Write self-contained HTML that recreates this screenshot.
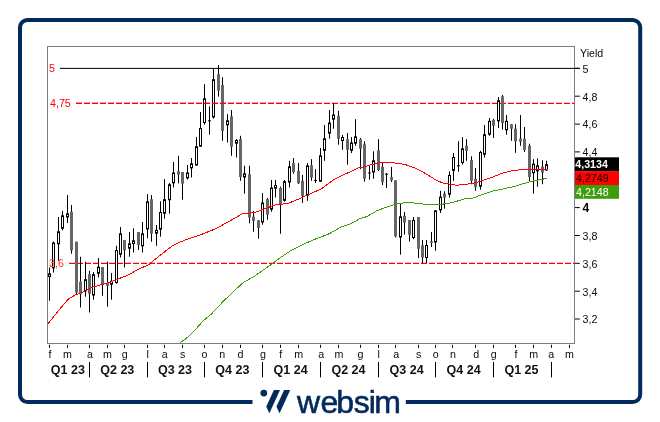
<!DOCTYPE html>
<html lang="it"><head><meta charset="utf-8"><title>Yield chart - websim</title>
<style>html,body{margin:0;padding:0;background:#fff}body{width:660px;height:422px;overflow:hidden;font-family:"Liberation Sans",Arial,sans-serif}svg{display:block}text{font-family:"Liberation Sans",Arial,sans-serif}</style></head><body>
<svg width="660" height="422" viewBox="0 0 660 422">
<rect width="660" height="422" fill="#fff"/>
<rect x="20" y="19.9" width="620.2" height="382.1" rx="7.5" ry="7.5" fill="none" stroke="#022a5c" stroke-width="4"/>
<rect x="252.5" y="397" width="153.3" height="10" fill="#fff"/>
<g fill="#022a5c"><circle cx="263.8" cy="393.1" r="3.4"/>
<polygon points="273.9,390.1 280.0,390.1 269.5,413.1 269.1,413.1 266.3,406.6"/>
<polygon points="284.1,390.1 290.2,390.1 279.7,413.1 279.3,413.1 276.5,406.6"/>
<text x="297 320.4 336.2 353.7 368.8 374.3" y="413.3" font-size="32" stroke="#022a5c" stroke-width="0.6">websim</text></g>
<rect x="47.5" y="46.5" width="527" height="297" fill="#fff" stroke="#7c7c8e" stroke-width="1"/>
<g font-size="10.67" fill="#f00"><text x="49" y="72">5</text><text x="50" y="107">4,75</text></g>
<line x1="76" y1="103.3" x2="574.5" y2="103.3" stroke="#f00" stroke-width="1.2" stroke-dasharray="6 2"/>
<line x1="69" y1="263.3" x2="574.5" y2="263.3" stroke="#f00" stroke-width="1.2" stroke-dasharray="6 2"/>
<g>
<line x1="49.5" y1="267.5" x2="49.5" y2="300.8" stroke="#000" stroke-width="1"/>
<rect x="48.5" y="273.8" width="2" height="2.7" fill="#fff" stroke="#000" stroke-width="1"/>
<line x1="53.5" y1="241.5" x2="53.5" y2="272.5" stroke="#000" stroke-width="1"/>
<rect x="52.5" y="243.0" width="2" height="24.8" fill="#fff" stroke="#000" stroke-width="1"/>
<line x1="58.5" y1="217.0" x2="58.5" y2="260.8" stroke="#000" stroke-width="1"/>
<rect x="57.5" y="231.8" width="2" height="11.9" fill="#fff" stroke="#000" stroke-width="1"/>
<line x1="62.5" y1="210.8" x2="62.5" y2="230.3" stroke="#000" stroke-width="1"/>
<rect x="61.5" y="215.8" width="2" height="12.4" fill="#fff" stroke="#000" stroke-width="1"/>
<line x1="67.5" y1="195.0" x2="67.5" y2="223.0" stroke="#000" stroke-width="1"/>
<rect x="66.5" y="213.8" width="2" height="3.2" fill="#fff" stroke="#000" stroke-width="1"/>
<line x1="71.5" y1="205.0" x2="71.5" y2="253.7" stroke="#000" stroke-width="1"/>
<rect x="70.0" y="211.7" width="3" height="38.6" fill="#666"/>
<line x1="76.5" y1="241.7" x2="76.5" y2="294.0" stroke="#000" stroke-width="1"/>
<rect x="75.0" y="241.7" width="3" height="50.8" fill="#666"/>
<line x1="80.5" y1="256.7" x2="80.5" y2="307.5" stroke="#000" stroke-width="1"/>
<rect x="79.0" y="281.7" width="3" height="12.5" fill="#666"/>
<line x1="85.5" y1="261.7" x2="85.5" y2="296.7" stroke="#000" stroke-width="1"/>
<rect x="84.5" y="279.7" width="2" height="11.2" fill="#fff" stroke="#000" stroke-width="1"/>
<line x1="89.5" y1="270.8" x2="89.5" y2="312.5" stroke="#000" stroke-width="1"/>
<rect x="88.0" y="274.2" width="3" height="19.5" fill="#666"/>
<line x1="93.5" y1="272.0" x2="93.5" y2="299.7" stroke="#000" stroke-width="1"/>
<rect x="92.5" y="274.7" width="2" height="20.3" fill="#fff" stroke="#000" stroke-width="1"/>
<line x1="98.5" y1="258.0" x2="98.5" y2="277.5" stroke="#000" stroke-width="1"/>
<rect x="97.5" y="267.2" width="2" height="6.1" fill="#fff" stroke="#000" stroke-width="1"/>
<line x1="102.5" y1="267.0" x2="102.5" y2="295.8" stroke="#000" stroke-width="1"/>
<rect x="101.0" y="267.0" width="3" height="18.0" fill="#666"/>
<line x1="107.5" y1="261.7" x2="107.5" y2="306.7" stroke="#000" stroke-width="1"/>
<rect x="106.0" y="283.0" width="3" height="2.8" fill="#666"/>
<line x1="111.5" y1="273.0" x2="111.5" y2="299.7" stroke="#000" stroke-width="1"/>
<rect x="110.5" y="281.3" width="2" height="2.9" fill="#fff" stroke="#000" stroke-width="1"/>
<line x1="116.5" y1="245.8" x2="116.5" y2="283.7" stroke="#000" stroke-width="1"/>
<rect x="115.5" y="250.5" width="2" height="32.0" fill="#fff" stroke="#000" stroke-width="1"/>
<line x1="120.5" y1="227.0" x2="120.5" y2="257.5" stroke="#000" stroke-width="1"/>
<rect x="119.5" y="233.8" width="2" height="20.4" fill="#fff" stroke="#000" stroke-width="1"/>
<line x1="124.5" y1="240.0" x2="124.5" y2="267.5" stroke="#000" stroke-width="1"/>
<rect x="123.0" y="240.0" width="3" height="10.3" fill="#666"/>
<line x1="129.5" y1="232.0" x2="129.5" y2="256.7" stroke="#000" stroke-width="1"/>
<rect x="128.5" y="243.8" width="2" height="4.4" fill="#fff" stroke="#000" stroke-width="1"/>
<line x1="133.5" y1="228.3" x2="133.5" y2="252.5" stroke="#000" stroke-width="1"/>
<rect x="132.5" y="240.8" width="2" height="2.7" fill="#fff" stroke="#000" stroke-width="1"/>
<line x1="138.5" y1="232.0" x2="138.5" y2="250.0" stroke="#000" stroke-width="1"/>
<rect x="137.0" y="232.0" width="3" height="13.0" fill="#666"/>
<line x1="142.5" y1="222.0" x2="142.5" y2="252.5" stroke="#000" stroke-width="1"/>
<rect x="141.5" y="233.8" width="2" height="12.0" fill="#fff" stroke="#000" stroke-width="1"/>
<line x1="147.5" y1="194.2" x2="147.5" y2="238.3" stroke="#000" stroke-width="1"/>
<rect x="146.5" y="201.8" width="2" height="27.2" fill="#fff" stroke="#000" stroke-width="1"/>
<line x1="151.5" y1="195.0" x2="151.5" y2="241.7" stroke="#000" stroke-width="1"/>
<rect x="150.0" y="199.2" width="3" height="34.5" fill="#666"/>
<line x1="156.5" y1="225.0" x2="156.5" y2="245.8" stroke="#000" stroke-width="1"/>
<rect x="155.5" y="230.5" width="2" height="2.7" fill="#fff" stroke="#000" stroke-width="1"/>
<line x1="160.5" y1="201.3" x2="160.5" y2="236.7" stroke="#000" stroke-width="1"/>
<rect x="159.5" y="212.5" width="2" height="16.7" fill="#fff" stroke="#000" stroke-width="1"/>
<line x1="164.5" y1="179.2" x2="164.5" y2="218.7" stroke="#000" stroke-width="1"/>
<rect x="163.5" y="199.7" width="2" height="13.5" fill="#fff" stroke="#000" stroke-width="1"/>
<line x1="169.5" y1="183.0" x2="169.5" y2="213.7" stroke="#000" stroke-width="1"/>
<rect x="168.5" y="184.7" width="2" height="15.1" fill="#fff" stroke="#000" stroke-width="1"/>
<line x1="173.5" y1="162.0" x2="173.5" y2="187.5" stroke="#000" stroke-width="1"/>
<rect x="172.5" y="173.0" width="2" height="9.8" fill="#fff" stroke="#000" stroke-width="1"/>
<line x1="178.5" y1="155.8" x2="178.5" y2="183.3" stroke="#000" stroke-width="1"/>
<rect x="177.0" y="171.3" width="3" height="3.4" fill="#666"/>
<line x1="182.5" y1="172.0" x2="182.5" y2="199.7" stroke="#000" stroke-width="1"/>
<rect x="181.0" y="172.0" width="3" height="11.7" fill="#666"/>
<line x1="187.5" y1="165.0" x2="187.5" y2="179.7" stroke="#000" stroke-width="1"/>
<rect x="186.5" y="173.0" width="2" height="4.8" fill="#fff" stroke="#000" stroke-width="1"/>
<line x1="191.5" y1="158.0" x2="191.5" y2="177.5" stroke="#000" stroke-width="1"/>
<rect x="190.5" y="163.8" width="2" height="4.0" fill="#fff" stroke="#000" stroke-width="1"/>
<line x1="196.5" y1="137.0" x2="196.5" y2="165.5" stroke="#000" stroke-width="1"/>
<rect x="195.5" y="146.8" width="2" height="18.2" fill="#fff" stroke="#000" stroke-width="1"/>
<line x1="200.5" y1="112.0" x2="200.5" y2="146.7" stroke="#000" stroke-width="1"/>
<rect x="199.5" y="128.5" width="2" height="17.7" fill="#fff" stroke="#000" stroke-width="1"/>
<line x1="204.5" y1="84.2" x2="204.5" y2="124.7" stroke="#000" stroke-width="1"/>
<rect x="203.5" y="98.8" width="2" height="23.7" fill="#fff" stroke="#000" stroke-width="1"/>
<line x1="209.5" y1="106.3" x2="209.5" y2="134.7" stroke="#000" stroke-width="1"/>
<line x1="208.0" y1="120.8" x2="211.0" y2="120.8" stroke="#000" stroke-width="1"/>
<line x1="213.5" y1="68.3" x2="213.5" y2="118.7" stroke="#000" stroke-width="1"/>
<rect x="212.5" y="79.7" width="2" height="37.3" fill="#fff" stroke="#000" stroke-width="1"/>
<line x1="218.5" y1="65.0" x2="218.5" y2="96.7" stroke="#000" stroke-width="1"/>
<rect x="217.0" y="74.2" width="3" height="16.6" fill="#666"/>
<line x1="222.5" y1="77.2" x2="222.5" y2="140.8" stroke="#000" stroke-width="1"/>
<rect x="221.0" y="85.0" width="3" height="46.0" fill="#666"/>
<line x1="227.5" y1="114.2" x2="227.5" y2="142.5" stroke="#000" stroke-width="1"/>
<rect x="226.5" y="120.8" width="2" height="4.0" fill="#fff" stroke="#000" stroke-width="1"/>
<line x1="231.5" y1="110.0" x2="231.5" y2="155.8" stroke="#000" stroke-width="1"/>
<rect x="230.0" y="116.3" width="3" height="30.4" fill="#666"/>
<line x1="236.5" y1="139.0" x2="236.5" y2="157.5" stroke="#000" stroke-width="1"/>
<rect x="235.5" y="140.5" width="2" height="2.7" fill="#fff" stroke="#000" stroke-width="1"/>
<line x1="240.5" y1="135.8" x2="240.5" y2="180.8" stroke="#000" stroke-width="1"/>
<rect x="239.0" y="139.2" width="3" height="37.8" fill="#666"/>
<line x1="244.5" y1="165.8" x2="244.5" y2="193.7" stroke="#000" stroke-width="1"/>
<rect x="243.5" y="173.8" width="2" height="3.2" fill="#fff" stroke="#000" stroke-width="1"/>
<line x1="249.5" y1="165.8" x2="249.5" y2="223.3" stroke="#000" stroke-width="1"/>
<rect x="248.0" y="174.2" width="3" height="43.3" fill="#666"/>
<line x1="253.5" y1="210.8" x2="253.5" y2="231.7" stroke="#000" stroke-width="1"/>
<rect x="252.0" y="216.7" width="3" height="4.1" fill="#666"/>
<line x1="258.5" y1="220.3" x2="258.5" y2="238.7" stroke="#000" stroke-width="1"/>
<rect x="257.0" y="220.3" width="3" height="7.7" fill="#666"/>
<line x1="262.5" y1="193.0" x2="262.5" y2="224.7" stroke="#000" stroke-width="1"/>
<rect x="261.5" y="203.0" width="2" height="19.0" fill="#fff" stroke="#000" stroke-width="1"/>
<line x1="267.5" y1="198.0" x2="267.5" y2="219.7" stroke="#000" stroke-width="1"/>
<rect x="266.0" y="199.2" width="3" height="15.5" fill="#666"/>
<line x1="271.5" y1="180.0" x2="271.5" y2="211.7" stroke="#000" stroke-width="1"/>
<rect x="270.5" y="188.0" width="2" height="21.2" fill="#fff" stroke="#000" stroke-width="1"/>
<line x1="275.5" y1="180.0" x2="275.5" y2="197.5" stroke="#000" stroke-width="1"/>
<rect x="274.5" y="185.5" width="2" height="2.7" fill="#fff" stroke="#000" stroke-width="1"/>
<line x1="280.5" y1="186.7" x2="280.5" y2="233.8" stroke="#000" stroke-width="1"/>
<rect x="279.0" y="188.0" width="3" height="16.0" fill="#666"/>
<line x1="284.5" y1="180.0" x2="284.5" y2="201.7" stroke="#000" stroke-width="1"/>
<rect x="283.5" y="181.7" width="2" height="18.6" fill="#fff" stroke="#000" stroke-width="1"/>
<line x1="289.5" y1="160.8" x2="289.5" y2="187.5" stroke="#000" stroke-width="1"/>
<rect x="288.5" y="166.8" width="2" height="15.2" fill="#fff" stroke="#000" stroke-width="1"/>
<line x1="293.5" y1="158.0" x2="293.5" y2="173.7" stroke="#000" stroke-width="1"/>
<rect x="292.0" y="163.0" width="3" height="9.0" fill="#666"/>
<line x1="298.5" y1="163.0" x2="298.5" y2="184.0" stroke="#000" stroke-width="1"/>
<rect x="297.0" y="170.8" width="3" height="12.5" fill="#666"/>
<line x1="302.5" y1="175.0" x2="302.5" y2="203.0" stroke="#000" stroke-width="1"/>
<rect x="301.0" y="180.8" width="3" height="15.0" fill="#666"/>
<line x1="307.5" y1="163.0" x2="307.5" y2="200.8" stroke="#000" stroke-width="1"/>
<rect x="306.5" y="165.8" width="2" height="29.5" fill="#fff" stroke="#000" stroke-width="1"/>
<line x1="311.5" y1="159.2" x2="311.5" y2="180.8" stroke="#000" stroke-width="1"/>
<rect x="310.0" y="165.3" width="3" height="12.2" fill="#666"/>
<line x1="315.5" y1="169.2" x2="315.5" y2="183.0" stroke="#000" stroke-width="1"/>
<line x1="314.0" y1="180.5" x2="317.0" y2="180.5" stroke="#000" stroke-width="1"/>
<line x1="320.5" y1="148.0" x2="320.5" y2="181.7" stroke="#000" stroke-width="1"/>
<rect x="319.5" y="155.8" width="2" height="25.4" fill="#fff" stroke="#000" stroke-width="1"/>
<line x1="324.5" y1="125.0" x2="324.5" y2="160.8" stroke="#000" stroke-width="1"/>
<rect x="323.5" y="138.8" width="2" height="11.5" fill="#fff" stroke="#000" stroke-width="1"/>
<line x1="329.5" y1="110.0" x2="329.5" y2="138.7" stroke="#000" stroke-width="1"/>
<rect x="328.5" y="123.0" width="2" height="10.2" fill="#fff" stroke="#000" stroke-width="1"/>
<line x1="333.5" y1="103.3" x2="333.5" y2="128.7" stroke="#000" stroke-width="1"/>
<rect x="332.5" y="115.0" width="2" height="4.2" fill="#fff" stroke="#000" stroke-width="1"/>
<line x1="338.5" y1="110.8" x2="338.5" y2="144.7" stroke="#000" stroke-width="1"/>
<rect x="337.0" y="115.8" width="3" height="22.9" fill="#666"/>
<line x1="342.5" y1="135.0" x2="342.5" y2="149.7" stroke="#000" stroke-width="1"/>
<rect x="341.5" y="137.5" width="2" height="3.0" fill="#fff" stroke="#000" stroke-width="1"/>
<line x1="347.5" y1="133.0" x2="347.5" y2="164.7" stroke="#000" stroke-width="1"/>
<rect x="346.0" y="139.2" width="3" height="10.5" fill="#666"/>
<line x1="351.5" y1="137.0" x2="351.5" y2="153.0" stroke="#000" stroke-width="1"/>
<rect x="350.5" y="143.0" width="2" height="7.3" fill="#fff" stroke="#000" stroke-width="1"/>
<line x1="355.5" y1="119.2" x2="355.5" y2="145.8" stroke="#000" stroke-width="1"/>
<rect x="354.5" y="136.8" width="2" height="6.4" fill="#fff" stroke="#000" stroke-width="1"/>
<line x1="360.5" y1="138.0" x2="360.5" y2="169.2" stroke="#000" stroke-width="1"/>
<rect x="359.0" y="139.2" width="3" height="9.5" fill="#666"/>
<line x1="364.5" y1="141.3" x2="364.5" y2="181.7" stroke="#000" stroke-width="1"/>
<rect x="363.0" y="144.2" width="3" height="34.5" fill="#666"/>
<line x1="369.5" y1="165.8" x2="369.5" y2="179.7" stroke="#000" stroke-width="1"/>
<line x1="368.0" y1="173.0" x2="371.0" y2="173.0" stroke="#000" stroke-width="1"/>
<line x1="373.5" y1="151.3" x2="373.5" y2="178.7" stroke="#000" stroke-width="1"/>
<rect x="372.5" y="160.8" width="2" height="11.2" fill="#fff" stroke="#000" stroke-width="1"/>
<line x1="378.5" y1="139.2" x2="378.5" y2="171.0" stroke="#000" stroke-width="1"/>
<rect x="377.0" y="150.3" width="3" height="19.7" fill="#666"/>
<line x1="382.5" y1="162.5" x2="382.5" y2="185.0" stroke="#000" stroke-width="1"/>
<rect x="381.0" y="166.7" width="3" height="15.3" fill="#666"/>
<line x1="386.5" y1="173.0" x2="386.5" y2="188.0" stroke="#000" stroke-width="1"/>
<line x1="385.0" y1="174.2" x2="388.0" y2="174.2" stroke="#000" stroke-width="1"/>
<line x1="391.5" y1="167.0" x2="391.5" y2="182.0" stroke="#000" stroke-width="1"/>
<rect x="390.0" y="177.0" width="3" height="3.3" fill="#666"/>
<line x1="395.5" y1="180.3" x2="395.5" y2="237.5" stroke="#000" stroke-width="1"/>
<rect x="394.0" y="180.3" width="3" height="56.0" fill="#666"/>
<line x1="400.5" y1="203.3" x2="400.5" y2="254.7" stroke="#000" stroke-width="1"/>
<rect x="399.5" y="216.8" width="2" height="20.2" fill="#fff" stroke="#000" stroke-width="1"/>
<line x1="404.5" y1="212.0" x2="404.5" y2="234.7" stroke="#000" stroke-width="1"/>
<rect x="403.0" y="215.8" width="3" height="6.7" fill="#666"/>
<line x1="409.5" y1="220.0" x2="409.5" y2="241.7" stroke="#000" stroke-width="1"/>
<rect x="408.0" y="220.0" width="3" height="14.7" fill="#666"/>
<line x1="413.5" y1="217.0" x2="413.5" y2="239.2" stroke="#000" stroke-width="1"/>
<rect x="412.5" y="220.5" width="2" height="17.0" fill="#fff" stroke="#000" stroke-width="1"/>
<line x1="418.5" y1="217.0" x2="418.5" y2="258.0" stroke="#000" stroke-width="1"/>
<rect x="417.0" y="217.0" width="3" height="31.7" fill="#666"/>
<line x1="422.5" y1="240.0" x2="422.5" y2="263.3" stroke="#000" stroke-width="1"/>
<rect x="421.0" y="245.3" width="3" height="12.2" fill="#666"/>
<line x1="426.5" y1="240.0" x2="426.5" y2="263.0" stroke="#000" stroke-width="1"/>
<rect x="425.5" y="245.5" width="2" height="12.0" fill="#fff" stroke="#000" stroke-width="1"/>
<line x1="431.5" y1="232.0" x2="431.5" y2="247.0" stroke="#000" stroke-width="1"/>
<rect x="430.0" y="241.3" width="3" height="1.7" fill="#666"/>
<line x1="435.5" y1="210.3" x2="435.5" y2="250.8" stroke="#000" stroke-width="1"/>
<rect x="434.5" y="210.8" width="2" height="31.2" fill="#fff" stroke="#000" stroke-width="1"/>
<line x1="440.5" y1="190.8" x2="440.5" y2="213.0" stroke="#000" stroke-width="1"/>
<rect x="439.5" y="197.2" width="2" height="12.6" fill="#fff" stroke="#000" stroke-width="1"/>
<line x1="444.5" y1="191.3" x2="444.5" y2="208.7" stroke="#000" stroke-width="1"/>
<rect x="443.0" y="193.7" width="3" height="3.8" fill="#666"/>
<line x1="449.5" y1="171.3" x2="449.5" y2="197.5" stroke="#000" stroke-width="1"/>
<rect x="448.5" y="175.5" width="2" height="18.7" fill="#fff" stroke="#000" stroke-width="1"/>
<line x1="453.5" y1="153.0" x2="453.5" y2="180.8" stroke="#000" stroke-width="1"/>
<rect x="452.5" y="157.5" width="2" height="12.8" fill="#fff" stroke="#000" stroke-width="1"/>
<line x1="458.5" y1="141.3" x2="458.5" y2="171.7" stroke="#000" stroke-width="1"/>
<line x1="457.0" y1="165.8" x2="460.0" y2="165.8" stroke="#000" stroke-width="1"/>
<line x1="462.5" y1="137.0" x2="462.5" y2="164.7" stroke="#000" stroke-width="1"/>
<rect x="461.5" y="148.8" width="2" height="13.7" fill="#fff" stroke="#000" stroke-width="1"/>
<line x1="466.5" y1="139.2" x2="466.5" y2="160.8" stroke="#000" stroke-width="1"/>
<rect x="465.0" y="145.8" width="3" height="5.0" fill="#666"/>
<line x1="471.5" y1="156.3" x2="471.5" y2="184.2" stroke="#000" stroke-width="1"/>
<rect x="470.0" y="160.0" width="3" height="20.8" fill="#666"/>
<line x1="475.5" y1="168.0" x2="475.5" y2="190.8" stroke="#000" stroke-width="1"/>
<rect x="474.0" y="178.7" width="3" height="8.3" fill="#666"/>
<line x1="480.5" y1="150.8" x2="480.5" y2="189.7" stroke="#000" stroke-width="1"/>
<rect x="479.5" y="152.5" width="2" height="33.7" fill="#fff" stroke="#000" stroke-width="1"/>
<line x1="484.5" y1="125.0" x2="484.5" y2="157.5" stroke="#000" stroke-width="1"/>
<rect x="483.5" y="134.7" width="2" height="19.5" fill="#fff" stroke="#000" stroke-width="1"/>
<line x1="489.5" y1="118.0" x2="489.5" y2="135.8" stroke="#000" stroke-width="1"/>
<rect x="488.5" y="121.3" width="2" height="12.9" fill="#fff" stroke="#000" stroke-width="1"/>
<line x1="493.5" y1="118.8" x2="493.5" y2="138.0" stroke="#000" stroke-width="1"/>
<rect x="492.0" y="120.0" width="3" height="5.8" fill="#666"/>
<line x1="498.5" y1="97.0" x2="498.5" y2="128.0" stroke="#000" stroke-width="1"/>
<rect x="497.5" y="100.8" width="2" height="20.0" fill="#fff" stroke="#000" stroke-width="1"/>
<line x1="502.5" y1="95.0" x2="502.5" y2="129.7" stroke="#000" stroke-width="1"/>
<rect x="501.0" y="96.3" width="3" height="26.7" fill="#666"/>
<line x1="506.5" y1="115.0" x2="506.5" y2="134.7" stroke="#000" stroke-width="1"/>
<rect x="505.5" y="121.3" width="2" height="8.5" fill="#fff" stroke="#000" stroke-width="1"/>
<line x1="511.5" y1="124.2" x2="511.5" y2="140.8" stroke="#000" stroke-width="1"/>
<rect x="510.0" y="124.2" width="3" height="4.5" fill="#666"/>
<line x1="515.5" y1="124.2" x2="515.5" y2="152.8" stroke="#000" stroke-width="1"/>
<rect x="514.0" y="128.7" width="3" height="12.6" fill="#666"/>
<line x1="520.5" y1="115.0" x2="520.5" y2="145.8" stroke="#000" stroke-width="1"/>
<rect x="519.0" y="138.7" width="3" height="3.0" fill="#666"/>
<line x1="524.5" y1="127.0" x2="524.5" y2="152.0" stroke="#000" stroke-width="1"/>
<rect x="523.0" y="138.7" width="3" height="11.3" fill="#666"/>
<line x1="529.5" y1="143.7" x2="529.5" y2="182.0" stroke="#000" stroke-width="1"/>
<rect x="528.0" y="145.8" width="3" height="31.2" fill="#666"/>
<line x1="533.5" y1="159.2" x2="533.5" y2="193.7" stroke="#000" stroke-width="1"/>
<rect x="532.5" y="164.2" width="2" height="8.6" fill="#fff" stroke="#000" stroke-width="1"/>
<line x1="537.5" y1="158.3" x2="537.5" y2="186.7" stroke="#000" stroke-width="1"/>
<rect x="536.5" y="165.8" width="2" height="5.0" fill="#fff" stroke="#000" stroke-width="1"/>
<line x1="542.5" y1="160.3" x2="542.5" y2="184.2" stroke="#000" stroke-width="1"/>
<rect x="541.0" y="166.7" width="3" height="5.8" fill="#666"/>
<line x1="546.5" y1="160.8" x2="546.5" y2="170.5" stroke="#000" stroke-width="1"/>
<rect x="545.5" y="164.7" width="2" height="5.3" fill="#fff" stroke="#000" stroke-width="1"/>
</g>
<text x="49" y="267" font-size="10.67" fill="#ff3a1c">3,6</text>
<path d="M180.0,343.0 L186.7,338.0 L194.2,330.8 L203.3,320.8 L211.7,313.7 L223.3,301.3 L233.3,291.7 L243.3,282.5 L255.0,275.8 L263.3,270.0 L273.3,263.0 L281.7,256.7 L291.7,250.0 L301.7,245.0 L315.0,239.2 L328.3,234.2 L341.7,226.7 L351.7,223.3 L360.0,218.5 L366.7,216.7 L376.7,210.8 L386.7,207.0 L396.7,203.7 L408.3,202.5 L416.7,203.3 L426.7,204.5 L438.3,204.5 L446.7,203.7 L456.7,201.3 L465.0,198.6 L472.5,198.3 L481.7,194.7 L491.7,191.3 L501.7,189.2 L513.3,186.7 L523.3,183.7 L531.7,181.3 L540.0,179.7 L547.0,178.3" fill="none" stroke="#3c9e0a" stroke-width="1" shape-rendering="crispEdges"/>
<path d="M48.0,323.7 L55.0,315.0 L61.7,306.7 L68.3,299.2 L75.0,295.0 L81.7,292.5 L93.3,287.0 L103.3,284.2 L111.7,281.7 L121.7,277.5 L128.3,275.0 L138.3,269.2 L148.3,265.0 L154.2,260.0 L171.7,246.3 L180.0,242.0 L190.0,238.3 L200.0,235.0 L216.7,228.3 L230.0,220.8 L243.3,213.3 L250.0,213.0 L255.0,212.5 L265.0,208.7 L275.0,205.0 L288.3,203.3 L298.3,199.2 L308.3,194.7 L321.7,188.7 L333.3,180.0 L345.0,174.2 L358.3,168.0 L365.0,166.5 L370.0,165.0 L381.7,162.5 L391.7,162.5 L405.0,164.5 L416.7,168.7 L426.7,174.2 L435.0,179.5 L443.3,183.3 L450.0,184.2 L456.7,185.3 L463.3,184.6 L473.3,183.3 L481.7,180.8 L491.7,177.5 L501.7,173.3 L513.3,170.5 L523.3,169.5 L531.7,169.2 L540.0,169.2 L547.5,170.0" fill="none" stroke="#f00" stroke-width="1" shape-rendering="crispEdges"/>
<line x1="60" y1="68.4" x2="579.8" y2="68.4" stroke="#000" stroke-width="1"/>
<line x1="76" y1="103.3" x2="300" y2="103.3" stroke="#f00" stroke-width="1.2" stroke-dasharray="6 2"/>
<g font-size="10.67" fill="#0a0a0a">
<text x="580" y="57">Yield</text>
<line x1="575" y1="68.3" x2="579.8" y2="68.3" stroke="#000" stroke-width="1"/>
<text x="582.5" y="72.6">5</text>
<line x1="575" y1="96.2" x2="579.8" y2="96.2" stroke="#000" stroke-width="1"/>
<text x="582.5" y="100.5">4,8</text>
<line x1="575" y1="124.1" x2="579.8" y2="124.1" stroke="#000" stroke-width="1"/>
<text x="582.5" y="128.4">4,6</text>
<line x1="575" y1="151.9" x2="579.8" y2="151.9" stroke="#000" stroke-width="1"/>
<text x="582.5" y="156.2">4,4</text>
<line x1="575" y1="235.5" x2="579.8" y2="235.5" stroke="#000" stroke-width="1"/>
<text x="582.5" y="239.8">3,8</text>
<line x1="575" y1="263.3" x2="579.8" y2="263.3" stroke="#000" stroke-width="1"/>
<text x="582.5" y="267.6">3,6</text>
<line x1="575" y1="291.2" x2="579.8" y2="291.2" stroke="#000" stroke-width="1"/>
<text x="582.5" y="295.5">3,4</text>
<line x1="575" y1="319.0" x2="579.8" y2="319.0" stroke="#000" stroke-width="1"/>
<text x="582.5" y="323.3">3,2</text>
<line x1="575" y1="207.6" x2="579.8" y2="207.6" stroke="#000" stroke-width="1"/>
<text x="582.5" y="212.0" font-size="12" font-weight="bold" fill="#000">4</text>
</g>
<rect x="575" y="157.3" width="44" height="13.8" fill="#000"/>
<rect x="575" y="171.1" width="44" height="13.9" fill="#f00"/>
<rect x="575" y="185" width="44" height="13.8" fill="#3c9e0a"/>
<g font-size="10.67"><text x="575.3" y="168" fill="#fff" font-weight="bold">4,3134</text><text x="576" y="181.9" fill="#000">4,2749</text><text x="576" y="195.8" fill="#fff">4,2148</text></g>
<g font-size="10.67" fill="#0a0a0a" text-anchor="middle">
<line x1="49.5" y1="344.8" x2="49.5" y2="347.9" stroke="#000" stroke-width="1"/>
<text x="50.0" y="358.2">f</text>
<line x1="67.5" y1="344.8" x2="67.5" y2="347.9" stroke="#000" stroke-width="1"/>
<text x="67.5" y="358.2">m</text>
<line x1="89.5" y1="344.8" x2="89.5" y2="347.9" stroke="#000" stroke-width="1"/>
<text x="90.0" y="358.2">a</text>
<line x1="107.5" y1="344.8" x2="107.5" y2="347.9" stroke="#000" stroke-width="1"/>
<text x="107.5" y="358.2">m</text>
<line x1="124.5" y1="344.8" x2="124.5" y2="347.9" stroke="#000" stroke-width="1"/>
<text x="124.7" y="358.2">g</text>
<line x1="147.5" y1="344.8" x2="147.5" y2="347.9" stroke="#000" stroke-width="1"/>
<text x="147.7" y="358.2">l</text>
<line x1="164.5" y1="344.8" x2="164.5" y2="347.9" stroke="#000" stroke-width="1"/>
<text x="164.7" y="358.2">a</text>
<line x1="182.5" y1="344.8" x2="182.5" y2="347.9" stroke="#000" stroke-width="1"/>
<text x="182.6" y="358.2">s</text>
<line x1="204.5" y1="344.8" x2="204.5" y2="347.9" stroke="#000" stroke-width="1"/>
<text x="204.4" y="358.2">o</text>
<line x1="222.5" y1="344.8" x2="222.5" y2="347.9" stroke="#000" stroke-width="1"/>
<text x="222.3" y="358.2">n</text>
<line x1="240.5" y1="344.8" x2="240.5" y2="347.9" stroke="#000" stroke-width="1"/>
<text x="240.5" y="358.2">d</text>
<line x1="262.5" y1="344.8" x2="262.5" y2="347.9" stroke="#000" stroke-width="1"/>
<text x="263.0" y="358.2">g</text>
<line x1="280.5" y1="344.8" x2="280.5" y2="347.9" stroke="#000" stroke-width="1"/>
<text x="280.7" y="358.2">f</text>
<line x1="298.5" y1="344.8" x2="298.5" y2="347.9" stroke="#000" stroke-width="1"/>
<text x="298.7" y="358.2">m</text>
<line x1="320.5" y1="344.8" x2="320.5" y2="347.9" stroke="#000" stroke-width="1"/>
<text x="321.2" y="358.2">a</text>
<line x1="338.5" y1="344.8" x2="338.5" y2="347.9" stroke="#000" stroke-width="1"/>
<text x="338.9" y="358.2">m</text>
<line x1="360.5" y1="344.8" x2="360.5" y2="347.9" stroke="#000" stroke-width="1"/>
<text x="360.4" y="358.2">g</text>
<line x1="378.5" y1="344.8" x2="378.5" y2="347.9" stroke="#000" stroke-width="1"/>
<text x="378.6" y="358.2">l</text>
<line x1="395.5" y1="344.8" x2="395.5" y2="347.9" stroke="#000" stroke-width="1"/>
<text x="396.1" y="358.2">a</text>
<line x1="418.5" y1="344.8" x2="418.5" y2="347.9" stroke="#000" stroke-width="1"/>
<text x="418.6" y="358.2">s</text>
<line x1="435.5" y1="344.8" x2="435.5" y2="347.9" stroke="#000" stroke-width="1"/>
<text x="435.6" y="358.2">o</text>
<line x1="452.5" y1="344.8" x2="452.5" y2="347.9" stroke="#000" stroke-width="1"/>
<text x="453.0" y="358.2">n</text>
<line x1="475.5" y1="344.8" x2="475.5" y2="347.9" stroke="#000" stroke-width="1"/>
<text x="476.1" y="358.2">d</text>
<line x1="493.5" y1="344.8" x2="493.5" y2="347.9" stroke="#000" stroke-width="1"/>
<text x="493.7" y="358.2">g</text>
<line x1="515.5" y1="344.8" x2="515.5" y2="347.9" stroke="#000" stroke-width="1"/>
<text x="515.9" y="358.2">f</text>
<line x1="533.5" y1="344.8" x2="533.5" y2="347.9" stroke="#000" stroke-width="1"/>
<text x="533.6" y="358.2">m</text>
<line x1="551.5" y1="344.8" x2="551.5" y2="347.9" stroke="#000" stroke-width="1"/>
<text x="551.3" y="358.2">a</text>
<line x1="569.5" y1="344.8" x2="569.5" y2="347.9" stroke="#000" stroke-width="1"/>
<text x="569.5" y="358.2">m</text>
</g>
<line x1="89.5" y1="362" x2="89.5" y2="377.4" stroke="#000" stroke-width="1"/>
<line x1="147.5" y1="362" x2="147.5" y2="377.4" stroke="#000" stroke-width="1"/>
<line x1="204.5" y1="362" x2="204.5" y2="377.4" stroke="#000" stroke-width="1"/>
<line x1="262.5" y1="362" x2="262.5" y2="377.4" stroke="#000" stroke-width="1"/>
<line x1="320.5" y1="362" x2="320.5" y2="377.4" stroke="#000" stroke-width="1"/>
<line x1="378.5" y1="362" x2="378.5" y2="377.4" stroke="#000" stroke-width="1"/>
<line x1="435.5" y1="362" x2="435.5" y2="377.4" stroke="#000" stroke-width="1"/>
<line x1="493.5" y1="362" x2="493.5" y2="377.4" stroke="#000" stroke-width="1"/>
<line x1="551.5" y1="362" x2="551.5" y2="377.4" stroke="#000" stroke-width="1"/>
<g font-size="12.5" font-weight="bold" fill="#111" text-anchor="middle">
<text x="67.9" y="373.8">Q1 23</text>
<text x="117.3" y="373.8">Q2 23</text>
<text x="175" y="373.8">Q3 23</text>
<text x="232.4" y="373.8">Q4 23</text>
<text x="290.6" y="373.8">Q1 24</text>
<text x="348.5" y="373.8">Q2 24</text>
<text x="406.6" y="373.8">Q3 24</text>
<text x="463.6" y="373.8">Q4 24</text>
<text x="521.5" y="373.8">Q1 25</text>
</g>
</svg></body></html>
